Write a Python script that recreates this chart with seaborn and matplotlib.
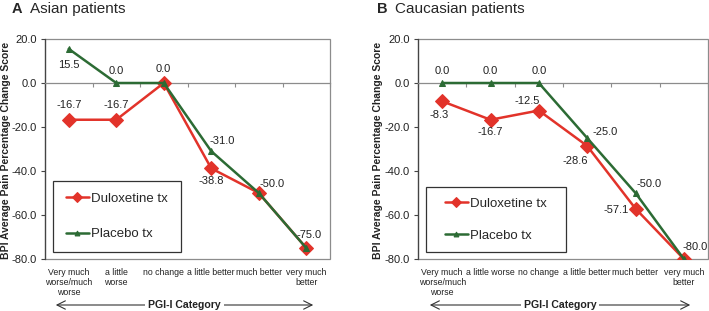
import numpy as np
import pandas as pd
import matplotlib
matplotlib.use("Agg")
import matplotlib.pyplot as plt
import matplotlib.transforms as mtransforms
from matplotlib.patches import Rectangle, FancyArrowPatch
import seaborn as sns

# ---------------- data ----------------
categories_a = ["Very much\nworse/much\nworse", "a little\nworse", "no change",
                "a little better", "much better", "very much\nbetter"]
categories_b = ["Very much\nworse/much\nworse", "a little worse", "no change",
                "a little better", "much better", "very much\nbetter"]
asian_duloxetine = [-16.7, -16.7, 0.0, -38.8, -50.0, -75.0]
asian_placebo = [15.5, 0.0, 0.0, -31.0, -50.0, -75.0]
cauc_duloxetine = [-8.3, -16.7, -12.5, -28.6, -57.1, -80.0]
cauc_placebo = [0.0, 0.0, 0.0, -25.0, -50.0, -80.0]
series_names = ["Duloxetine tx", "Placebo tx"]
yticks = [20, 0, -20, -40, -60, -80]
titles = [("A", "Asian patients"), ("B", "Caucasian patients")]
ylabel = "BPI Average Pain Percentage Change Score"
xlabel = "PGI-I Category"

# label offsets in pixels (None = not shown)
off_a_dul = [(0, 15), (0, 15), None, (0, -13), (13, 9), (3, 13)]
off_a_pla = [(0, -16), (0, 12), (0, 14), (11, 10), None, None]
off_b_dul = [(-3, -14), (0, -12), (-12, 10), (-12, -15), (-19, -1), None]
off_b_pla = [(0, 12), (0, 12), (0, 12), (18, 6), (14, 9), (11, 12)]

RED = "#E2332A"
GREEN = "#2C6B34"

sns.set_style("white")
plt.rcParams["font.family"] = ["Liberation Sans", "DejaVu Sans"]

fig = plt.figure(figsize=(7.09, 3.11), dpi=100)
W, H = 709, 311

def px_axes(l, t, r, b):
    return fig.add_axes([l / W, 1 - b / H, (r - l) / W, (b - t) / H])

ax_a = px_axes(45, 39, 330, 259)
ax_b = px_axes(418, 39, 708, 259)

panels = [
    (ax_a, categories_a, asian_duloxetine, asian_placebo, off_a_dul, off_a_pla,
     (53, 181, 181, 252), 1.73, 12, 30, 6, (53, 316), titles[0]),
    (ax_b, categories_b, cauc_duloxetine, cauc_placebo, off_b_dul, off_b_pla,
     (426, 187, 566, 252), 1.5, 377, 395, 378, (427, 693), titles[1]),
]

for (ax, cats, dul, pla, odul, opla, legbox, lspace, tx1, tx2, ylx, arr, ttl) in panels:
    pos = np.arange(len(cats))
    df = pd.DataFrame({
        "pos": np.concatenate([pos, pos]),
        "value": dul + pla,
        "series": [series_names[0]] * len(cats) + [series_names[1]] * len(cats),
    })
    sns.lineplot(data=df[df.series == series_names[0]], x="pos", y="value",
                 color=RED, marker="D", markersize=7, markeredgecolor=RED,
                 linewidth=1.8, ax=ax, label=series_names[0], zorder=3)
    sns.lineplot(data=df[df.series == series_names[1]], x="pos", y="value",
                 color=GREEN, marker="^", markersize=5, markeredgecolor=GREEN,
                 linewidth=1.8, ax=ax, label=series_names[1], zorder=4)

    for vals, offs in ((dul, odul), (pla, opla)):
        for i, (v, o) in enumerate(zip(vals, offs)):
            if o is None:
                continue
            ax.annotate(f"{v:.1f}", (pos[i], v), xytext=o, textcoords="offset pixels",
                        ha="center", va="center", fontsize=8, color="#222222")

    ax.set_xlim(-0.5, len(cats) - 0.5)
    ax.set_ylim(min(yticks), max(yticks))
    ax.set_yticks(yticks)
    ax.set_yticklabels([f"{t:.1f}" for t in yticks], fontsize=8, color="#222222")
    ax.tick_params(axis="y", direction="out", length=3, width=0.8, color="#444444", pad=3, left=True)

    # category axis crossing at zero
    for s in ("top", "right"):
        ax.spines[s].set_visible(False)
    ax.spines["bottom"].set_position(("data", 0))
    ax.spines["bottom"].set_color("#8c8c8c")
    ax.spines["bottom"].set_linewidth(0.9)
    ax.spines["left"].set_color("#444444")
    ax.spines["left"].set_linewidth(0.9)
    ax.set_xticks(np.arange(len(cats) + 1) - 0.5)
    ax.set_xticklabels([])
    ax.tick_params(axis="x", direction="out", length=3, width=0.8, color="#8c8c8c", bottom=True)
    ax.add_patch(Rectangle((0, 0), 1, 1, transform=ax.transAxes, fill=False,
                           edgecolor="#8c8c8c", linewidth=0.9, zorder=0.5, clip_on=False))
    ax.set_xlabel("")
    ax.set_ylabel("")

    trans = mtransforms.blended_transform_factory(ax.transData, ax.transAxes)
    for i, c in enumerate(cats):
        ax.text(pos[i], -0.04, c, transform=trans, ha="center", va="top",
                fontsize=6.3, color="#222222", linespacing=1.15)

    # legend: frameless legend centred in a drawn box
    l, t, r, b = legbox
    fig.add_artist(Rectangle((l / W, 1 - b / H), (r - l) / W, (b - t) / H,
                             transform=fig.transFigure, fill=True, facecolor="white",
                             edgecolor="#333333", linewidth=0.9, zorder=5))
    leg = ax.legend(loc="center", bbox_to_anchor=((l + r) / 2 / W, 1 - (t + b) / 2 / H),
                    bbox_transform=fig.transFigure, frameon=False,
                    fontsize=9.5, handlelength=1.7, handletextpad=0.2, labelspacing=lspace,
                    borderpad=0, borderaxespad=0, markerscale=0.7)
    leg.set_zorder(6)
    fig.add_artist(leg)

    # titles
    fig.text(tx1 / W, 1 - 13 / H, ttl[0], fontsize=10.5,
             fontweight="bold", va="baseline", ha="left")
    fig.text(tx2 / W, 1 - 13 / H, ttl[1], fontsize=11,
             va="baseline", ha="left")
    fig.text(ylx / W, 1 - 150 / H, ylabel, rotation=90, fontsize=7.5, fontweight="bold",
             ha="center", va="center", color="#222222")

    # PGI-I category arrow
    a0, a1 = arr
    yy = 1 - 305 / H
    fig.add_artist(FancyArrowPatch(
        (a0 / W, yy), (a1 / W, yy), transform=fig.transFigure,
        arrowstyle="<->,head_length=6,head_width=3", color="#333333", linewidth=0.8,
        mutation_scale=1))
    fig.text((a0 + a1) / 2 / W, yy, xlabel, fontsize=7.6, fontweight="bold", ha="center",
             va="center", color="#222222",
             bbox=dict(facecolor="white", edgecolor="none", pad=2))

fig.savefig("out.png", dpi=100)
